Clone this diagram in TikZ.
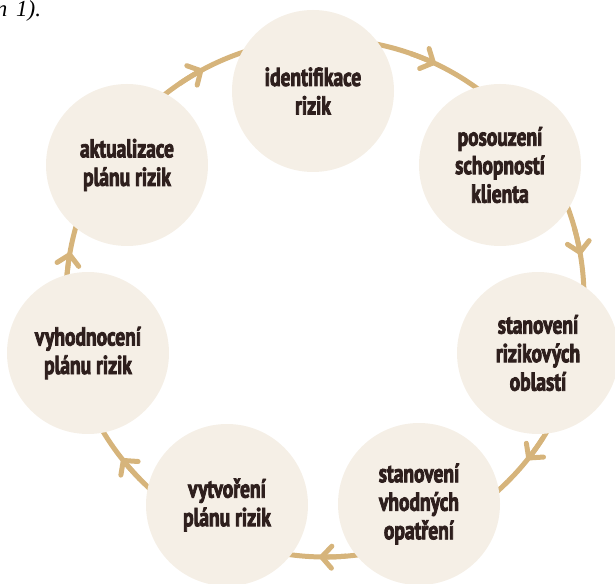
\documentclass[tikz,border=0pt]{standalone}
\usepackage{fontspec}
\setmainfont{Liberation Serif}
\newfontfamily\circfont{PT Sans Bold}[FakeStretch=0.75, FakeBold=3]
\usetikzlibrary{arrows.meta}
\definecolor{ringc}{HTML}{D6B47B}
\definecolor{fillc}{HTML}{F5EFE6}
\definecolor{txtc}{HTML}{2E1F1D}
\begin{document}
\begin{tikzpicture}[x=1pt,y=1pt,
  stage/.style={circle, fill=fillc, minimum size=162pt, inner sep=0pt, align=center, text=txtc,
    font=\circfont\fontsize{26}{28.5}\selectfont},
  ringline/.style={draw=ringc, line width=5pt},
  chev/.style={ringline, -{Straight Barb[length=10pt,width=22pt,round]}},
  captext/.style={inner sep=0pt, font=\itshape\fontsize{23}{24}\selectfont}]
\useasboundingbox (0,0) rectangle (615,583);
\coordinate (O) at (325,285);
\draw[ringline] (O) circle[radius=259];
\foreach \a in {118.1,64.7,9.6,-38.7,-91.3,-141.7,169.8}
  \draw[chev] ([shift={(\a+6:259)}]O) arc[start angle=\a+6, end angle=\a, radius=259];
\node[stage] (n1) at (313,492) {identifikace\\rizik};
\node[stage] (n2) at (500,418) {posouzení\\schopností\\klienta};
\node[stage] (n3) at (538,230) {stanovení\\rizikových\\oblastí};
\node[stage] (n4) at (419,79) {stanovení\\vhodných\\opatření};
\node[stage] (n5) at (227,78) {vytvoření\\plánu rizik};
\node[stage] (n6) at (88,230) {vyhodnocení\\plánu rizik};
\node[stage] (n7) at (127,418) {aktualizace\\plánu rizik};
\node[captext, anchor=base west] (cap) at (16,566.5) {1).};
\node[captext, anchor=base east] (capn) at (7.5,566.5) {n};
\end{tikzpicture}
\end{document}
